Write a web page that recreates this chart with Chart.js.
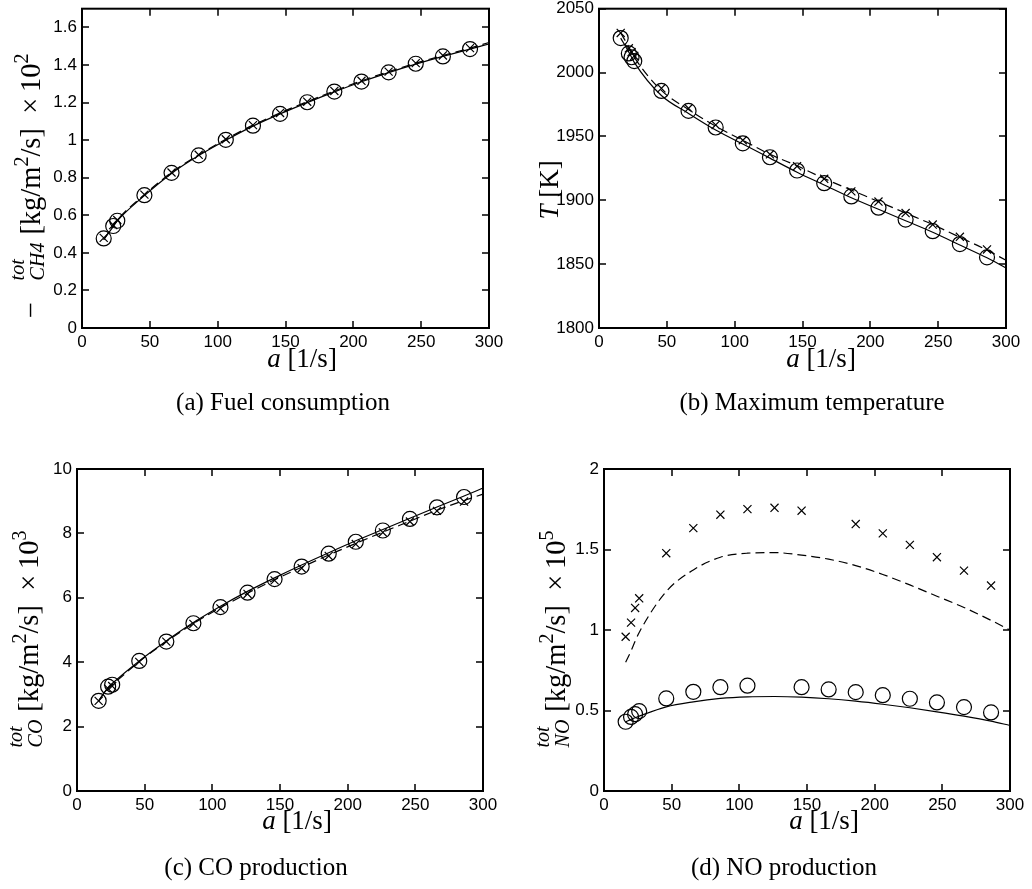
<!DOCTYPE html>
<html>
<head>
<meta charset="utf-8">
<script src="https://cdn.jsdelivr.net/npm/chart.js@4.4.1/dist/chart.umd.min.js"></script>
<style>
  body { margin: 0; background: #fff; width: 1032px; height: 889px; position: relative; overflow: hidden; }
  canvas { position: absolute; }
</style>
</head>
<body>
<canvas id="fuel-chart" width="516" height="440" style="left:0;top:0"></canvas>
<canvas id="temp-chart" width="516" height="440" style="left:516px;top:0"></canvas>
<canvas id="co-chart" width="516" height="449" style="left:0;top:440px"></canvas>
<canvas id="no-chart" width="516" height="449" style="left:516px;top:440px"></canvas>
<script>
const X_TICKS = [0, 50, 100, 150, 200, 250, 300];
const X_LABELS = ["0", "50", "100", "150", "200", "250", "300"];

// (a) fuel consumption
const FUEL_MARK_X  = [16, 23, 26, 46, 66, 86, 106, 126, 146, 166, 186, 206, 226, 246, 266, 286];
const FUEL_CIRCLES = [0.477, 0.543, 0.571, 0.707, 0.826, 0.919, 1.002, 1.077, 1.140, 1.202, 1.259, 1.312, 1.361, 1.407, 1.446, 1.485];
const FUEL_CROSSES = [0.480, 0.548, 0.575, 0.710, 0.828, 0.922, 1.005, 1.080, 1.145, 1.205, 1.262, 1.316, 1.365, 1.410, 1.451, 1.490];
const FUEL_LINE_X  = [16, 23, 26, 46, 66, 86, 106, 126, 146, 166, 186, 206, 226, 246, 266, 286, 300];
const FUEL_SOLID   = [0.470, 0.540, 0.570, 0.705, 0.823, 0.918, 1.000, 1.075, 1.140, 1.200, 1.257, 1.311, 1.360, 1.405, 1.446, 1.485, 1.512];
const FUEL_DASHED  = [0.470, 0.545, 0.575, 0.710, 0.828, 0.922, 1.005, 1.080, 1.145, 1.205, 1.262, 1.316, 1.365, 1.410, 1.451, 1.490, 1.520];
const FUEL_Y_TICKS  = [0, 0.2, 0.4, 0.6, 0.8, 1, 1.2, 1.4, 1.6];
const FUEL_Y_LABELS = ["0", "0.2", "0.4", "0.6", "0.8", "1", "1.2", "1.4", "1.6"];

// (b) maximum temperature
const TEMP_MARK_X  = [16, 22, 24, 26, 46, 66, 86, 106, 126, 146, 166, 186, 206, 226, 246, 266, 286];
const TEMP_CIRCLES = [2027, 2015, 2012, 2009, 1985.6, 1970, 1957, 1944.6, 1933.7, 1923.3, 1913.4, 1903, 1894.2, 1884.9, 1875.8, 1865.7, 1855.3];
const TEMP_CROSSES = [2031, 2019, 2016, 2013, 1987.7, 1972, 1959, 1947, 1936, 1926.7, 1916.8, 1907, 1899, 1890, 1881, 1871.4, 1861.5];
const TEMP_LINE_X  = [16, 22, 24, 26, 46, 66, 86, 106, 126, 146, 166, 186, 206, 226, 246, 266, 286, 300];
const TEMP_SOLID   = [2027, 2016, 2012, 2008, 1982, 1968, 1955, 1944, 1933, 1922, 1912, 1902, 1893, 1884, 1875, 1865, 1855, 1847];
const TEMP_DASHED  = [2031, 2020, 2016, 2012, 1986, 1971, 1958, 1947, 1936, 1927, 1917, 1908, 1899, 1890, 1881, 1871, 1861, 1853];
const TEMP_Y_TICKS  = [1800, 1850, 1900, 1950, 2000, 2050];
const TEMP_Y_LABELS = ["1800", "1850", "1900", "1950", "2000", "2050"];

// (c) CO production
const CO_MARK_X  = [16, 23, 26, 46, 66, 86, 106, 126, 146, 166, 186, 206, 226, 246, 266, 286];
const CO_CIRCLES = [2.80, 3.24, 3.30, 4.04, 4.64, 5.21, 5.71, 6.16, 6.58, 6.97, 7.37, 7.74, 8.09, 8.45, 8.81, 9.13];
const CO_CROSSES = [2.80, 3.18, 3.26, 4.01, 4.64, 5.19, 5.67, 6.12, 6.54, 6.92, 7.30, 7.67, 8.03, 8.37, 8.70, 8.99];
const CO_LINE_X  = [16, 23, 26, 46, 66, 86, 106, 126, 146, 166, 186, 206, 226, 246, 266, 286, 300];
const CO_SOLID   = [2.80, 3.22, 3.34, 4.04, 4.66, 5.23, 5.74, 6.20, 6.62, 7.02, 7.40, 7.77, 8.12, 8.47, 8.82, 9.16, 9.41];
const CO_DASHED  = [2.80, 3.20, 3.30, 4.02, 4.64, 5.20, 5.69, 6.14, 6.56, 6.95, 7.33, 7.69, 8.04, 8.38, 8.72, 9.02, 9.22];
const CO_Y_TICKS  = [0, 2, 4, 6, 8, 10];
const CO_Y_LABELS = ["0", "2", "4", "6", "8", "10"];

// (d) NO production
const NO_MARK_X  = [16, 20, 23, 26, 46, 66, 86, 106, 126, 146, 166, 186, 206, 226, 246, 266, 286];
const NO_CIRCLES = [0.430, 0.460, 0.477, 0.496, 0.575, 0.616, 0.645, 0.654, null, 0.645, 0.631, 0.614, 0.595, 0.573, 0.550, 0.521, 0.488];
const NO_CROSSES = [0.958, 1.046, 1.137, 1.197, 1.477, 1.633, 1.716, 1.751, 1.759, 1.741, null, 1.658, 1.600, 1.529, 1.452, 1.369, 1.276];
const NO_LINE_X  = [16, 20, 23, 26, 46, 66, 86, 106, 126, 146, 166, 186, 206, 226, 246, 266, 286, 300];
const NO_SOLID   = [0.430, 0.445, 0.455, 0.465, 0.523, 0.554, 0.575, 0.585, 0.587, 0.583, 0.573, 0.558, 0.539, 0.517, 0.492, 0.465, 0.434, 0.407];
const NO_DASHED  = [0.800, 0.870, 0.930, 0.985, 1.239, 1.373, 1.452, 1.477, 1.481, 1.465, 1.440, 1.400, 1.345, 1.280, 1.210, 1.140, 1.060, 1.000];
const NO_Y_TICKS  = [0, 0.5, 1, 1.5, 2];
const NO_Y_LABELS = ["0", "0.5", "1", "1.5", "2"];

const TICK_FONT = { family: "'Liberation Sans', Arial, sans-serif", size: 17 };
const serif = (size, italic) => `${italic ? "italic " : ""}${size}px "Liberation Serif", serif`;

const X_TITLE = [{ t: "a", font: serif(27, true) }, { t: " [1/s]", font: serif(27) }];
const unitsTail = exp => [
  { gap: 8 },
  { t: "[kg/m", font: serif(28.5) },
  { t: "2", font: serif(20), rise: 12 },
  { t: "/s]  ×\u200910", font: serif(28.5) },
  { t: exp, font: serif(20), rise: 12 },
];

function toPoints(xs, ys) {
  return xs.map((x, i) => ({ x, y: ys[i] })).filter(p => p.y !== null);
}

function drawRich(ctx, segs, cx, by, angle) {
  const widths = segs.map(s => {
    if (s.gap) return s.gap;
    ctx.font = s.font;
    if (s.top) return Math.max(ctx.measureText(s.top).width, ctx.measureText(s.bottom).width);
    return ctx.measureText(s.t).width;
  });
  const total = widths.reduce((a, b) => a + b, 0);
  ctx.save();
  ctx.translate(cx, by);
  ctx.rotate(angle);
  ctx.fillStyle = "#000";
  ctx.textAlign = "left";
  ctx.textBaseline = "alphabetic";
  let x = -total / 2;
  segs.forEach((s, i) => {
    if (!s.gap) {
      ctx.font = s.font;
      if (s.top) {
        ctx.fillText(s.top, x, -s.up);
        ctx.fillText(s.bottom, x, s.down);
      } else {
        ctx.fillText(s.t, x, -(s.rise || 0));
      }
    }
    x += widths[i];
  });
  ctx.restore();
}

const framePlugin = {
  id: "frame",
  afterDraw(chart, args, opts) {
    const { ctx, chartArea: a, scales } = chart;
    ctx.save();
    ctx.strokeStyle = "#000";
    ctx.lineWidth = 1.5;
    ctx.beginPath();
    scales.x.ticks.forEach(t => {
      const px = Math.round(scales.x.getPixelForValue(t.value));
      ctx.moveTo(px, a.bottom); ctx.lineTo(px, a.bottom - 7);
      ctx.moveTo(px, a.top); ctx.lineTo(px, a.top + 7);
    });
    scales.y.ticks.forEach(t => {
      const py = Math.round(scales.y.getPixelForValue(t.value));
      ctx.moveTo(a.left, py); ctx.lineTo(a.left + 7, py);
      ctx.moveTo(a.right, py); ctx.lineTo(a.right - 7, py);
    });
    ctx.stroke();
    ctx.lineWidth = 2;
    ctx.strokeRect(a.left, a.top, a.right - a.left, a.bottom - a.top);
    ctx.restore();

    drawRich(ctx, X_TITLE, opts.xTitleAt[0], opts.xTitleAt[1], 0);
    drawRich(ctx, opts.yTitle, opts.yTitleAt[0], opts.yTitleAt[1], -Math.PI / 2);
    drawRich(ctx, [{ t: opts.caption, font: serif(25) }], opts.captionAt[0], opts.captionAt[1], 0);
  },
};

function buildPanel(p) {
  const canvas = document.getElementById(p.id);
  const W = canvas.width, H = canvas.height;
  const Y_W = 60, X_H = 30;
  const datasets = [
    { data: toPoints(p.lineX, p.solid), borderColor: "#000", borderWidth: 1.2, pointRadius: 0, cubicInterpolationMode: "monotone", fill: false },
    { data: toPoints(p.lineX, p.dashed), borderColor: "#000", borderWidth: 1.2, borderDash: [9, 5], pointRadius: 0, cubicInterpolationMode: "monotone", fill: false },
    { data: toPoints(p.markX, p.circles), showLine: false, pointStyle: "circle", pointRadius: 7.5, borderColor: "#000", borderWidth: 1.2, backgroundColor: "transparent" },
    { data: toPoints(p.markX, p.crosses), showLine: false, pointStyle: "crossRot", pointRadius: 5.7, borderColor: "#000", borderWidth: 1.2 },
  ];
  const noPad = s => { s.paddingLeft = 0; s.paddingRight = 0; s.paddingTop = 0; s.paddingBottom = 0; };
  return new Chart(canvas.getContext("2d"), {
    type: "line",
    data: { datasets },
    plugins: [framePlugin],
    options: {
      responsive: false,
      animation: false,
      clip: false,
      layout: { padding: { left: p.area.left - Y_W, top: p.area.top, right: W - p.area.right, bottom: H - p.area.bottom - X_H } },
      plugins: {
        legend: { display: false },
        tooltip: { enabled: false },
        frame: { xTitleAt: p.xTitleAt, yTitleAt: p.yTitleAt, yTitle: p.yTitle, caption: p.caption, captionAt: p.captionAt },
      },
      scales: {
        x: {
          type: "linear", min: 0, max: 300,
          afterBuildTicks: s => { s.ticks = X_TICKS.map(v => ({ value: v })); },
          afterFit: s => { s.height = X_H; noPad(s); },
          ticks: { color: "#000", font: TICK_FONT, padding: 4, maxRotation: 0, autoSkip: false, callback: (v, i) => X_LABELS[i] },
          grid: { display: false, drawTicks: false },
          border: { display: false },
        },
        y: {
          type: "linear", min: p.yMin, max: p.yMax,
          afterBuildTicks: s => { s.ticks = p.yTicks.map(v => ({ value: v })); },
          afterFit: s => { s.width = Y_W; noPad(s); },
          ticks: { color: "#000", font: TICK_FONT, padding: 5, autoSkip: false, callback: (v, i) => p.yLabels[i] },
          grid: { display: false, drawTicks: false },
          border: { display: false },
        },
      },
    },
  });
}

buildPanel({
  id: "fuel-chart", area: { left: 82, top: 7, right: 489, bottom: 328 },
  markX: FUEL_MARK_X, circles: FUEL_CIRCLES, crosses: FUEL_CROSSES,
  lineX: FUEL_LINE_X, solid: FUEL_SOLID, dashed: FUEL_DASHED,
  yMin: 0, yMax: 1.7, yTicks: FUEL_Y_TICKS, yLabels: FUEL_Y_LABELS,
  xTitleAt: [302, 367], captionAt: [283, 410], caption: "(a) Fuel consumption",
  yTitleAt: [40, 186],
  yTitle: [{ t: "−", font: serif(28.5) }, { gap: 22 }, { top: "tot", bottom: "CH4", font: serif(20, true), up: 16, down: 4 }, ...unitsTail("2")],
});

buildPanel({
  id: "temp-chart", area: { left: 83, top: 7, right: 490, bottom: 328 },
  markX: TEMP_MARK_X, circles: TEMP_CIRCLES, crosses: TEMP_CROSSES,
  lineX: TEMP_LINE_X, solid: TEMP_SOLID, dashed: TEMP_DASHED,
  yMin: 1800, yMax: 2050, yTicks: TEMP_Y_TICKS, yLabels: TEMP_Y_LABELS,
  xTitleAt: [305, 367], captionAt: [296, 410], caption: "(b) Maximum temperature",
  yTitleAt: [42, 190],
  yTitle: [{ t: "T", font: serif(27, true) }, { t: " [K]", font: serif(27) }],
});

buildPanel({
  id: "co-chart", area: { left: 77, top: 29, right: 483, bottom: 351 },
  markX: CO_MARK_X, circles: CO_CIRCLES, crosses: CO_CROSSES,
  lineX: CO_LINE_X, solid: CO_SOLID, dashed: CO_DASHED,
  yMin: 0, yMax: 10, yTicks: CO_Y_TICKS, yLabels: CO_Y_LABELS,
  xTitleAt: [297, 389], captionAt: [256, 435], caption: "(c) CO production",
  yTitleAt: [38, 199],
  yTitle: [{ top: "tot", bottom: "CO", font: serif(20, true), up: 16, down: 4 }, ...unitsTail("3")],
});

buildPanel({
  id: "no-chart", area: { left: 88, top: 29, right: 494, bottom: 351 },
  markX: NO_MARK_X, circles: NO_CIRCLES, crosses: NO_CROSSES,
  lineX: NO_LINE_X, solid: NO_SOLID, dashed: NO_DASHED,
  yMin: 0, yMax: 2, yTicks: NO_Y_TICKS, yLabels: NO_Y_LABELS,
  xTitleAt: [308, 389], captionAt: [268, 435], caption: "(d) NO production",
  yTitleAt: [49, 199],
  yTitle: [{ top: "tot", bottom: "NO", font: serif(20, true), up: 16, down: 4 }, ...unitsTail("5")],
});
</script>
</body>
</html>
